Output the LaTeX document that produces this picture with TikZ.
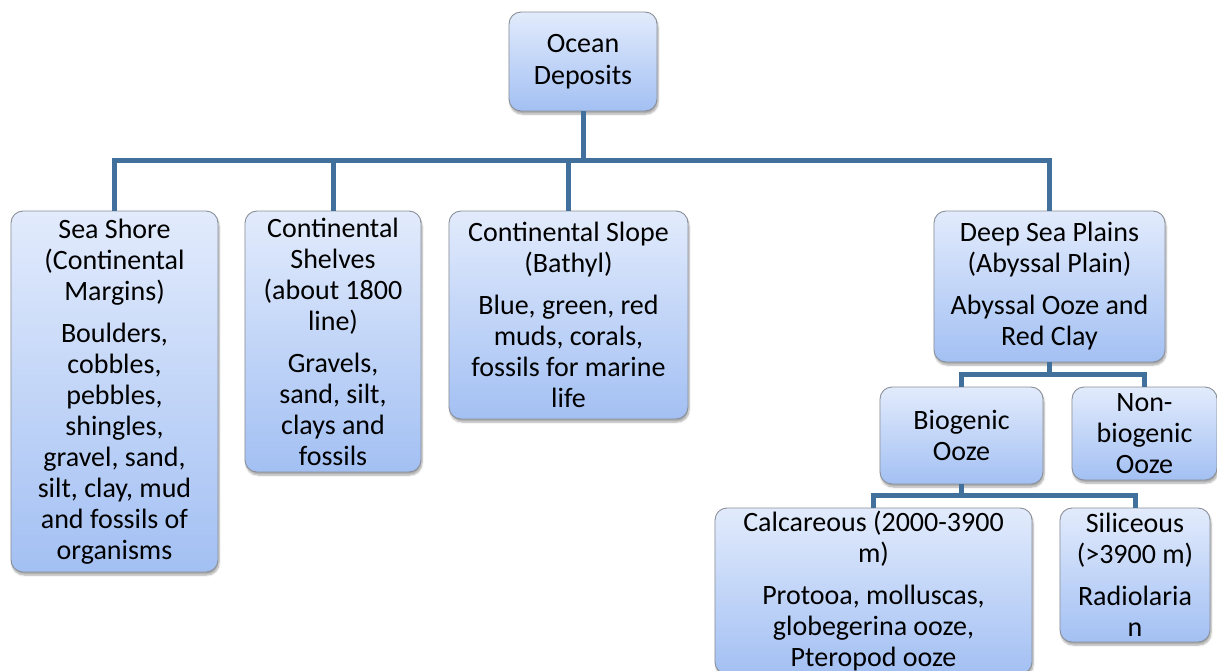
\documentclass[tikz,border=0pt]{standalone}
\usepackage{fontspec}
\setmainfont{Carlito}
\usepackage{xcolor}
\usetikzlibrary{positioning,calc,shadows.blur}
\definecolor{ink}{HTML}{000000}
\definecolor{rim}{HTML}{8A8F98}
\definecolor{boxtop}{HTML}{E2EBFC}
\definecolor{boxbot}{HTML}{A3C0F3}
\definecolor{wire}{HTML}{41709C}
\tikzset{
  deposit/.style={draw=rim,line width=0.9pt,top color=boxtop,bottom color=boxbot,rounded corners=12pt,inner sep=0pt,align=center,text=ink,
    font=\fontsize{28}{31}\selectfont,blur shadow={shadow xshift=1pt,shadow yshift=-3pt,shadow blur steps=6,shadow opacity=35}},
  link/.style={draw=wire,line width=5pt,line join=miter}
}

\begin{document}
\begin{tikzpicture}[x=1pt,y=-1pt]
    \useasboundingbox (0,0) rectangle (1217,670);
    \node[deposit,minimum width=148pt,minimum height=99pt] (ocean) at (583,61.5) {Ocean\\[1pt]Deposits};

    \node[deposit,minimum width=207pt,minimum height=361pt] (shore) at (114.5,391.5) {Sea Shore\\(Continental\\Margins)\\[11pt]Boulders,\\cobbles,\\pebbles,\\shingles,\\gravel, sand,\\silt, clay, mud\\and fossils of\\organisms};
    \node[deposit,minimum width=176pt,minimum height=261pt] (shelves) at (333,341.5) {Continental\\Shelves\\(about 1800\\line)\\[11pt]Gravels,\\sand, silt,\\clays and\\fossils};
    \node[deposit,minimum width=239pt,minimum height=208pt] (slope) at (568.5,315) {Continental Slope\\(Bathyl)\\[11pt]Blue, green, red\\muds, corals,\\fossils for marine\\life};
    \node[deposit,minimum width=231pt,minimum height=151pt] (deep) at (1049.5,286.5) {Deep Sea Plains\\(Abyssal Plain)\\[11pt]Abyssal Ooze and\\Red Clay};

    \node[deposit,minimum width=163pt,minimum height=97pt] (bio) at (961.5,435.5) {Biogenic\\Ooze};
    \node[deposit,minimum width=145pt,minimum height=93pt] (nonbio) at (1144.5,433.5) {Non-\\biogenic\\Ooze};

    \node[deposit,minimum width=317pt,minimum height=166pt] (calc) at (873.5,591) {Calcareous (2000-3900\\m)\\[11pt]Protooa, molluscas,\\globegerina ooze,\\Pteropod ooze};
    \node[deposit,minimum width=150pt,minimum height=134pt] (sil) at (1135,575) {Siliceous\\(\textgreater3900 m)\\[11pt]Radiolaria\\n};

    % connectors
    \coordinate (bus1) at (583,160);
    \coordinate (bus2) at (1049.5,374);
    \coordinate (bus3) at (961.5,495);
    \draw[link] (ocean.south) -- (bus1);
    \draw[link] (shore.north) |- (bus1) -| (deep.north);
    \draw[link] (shelves.north) -- (shelves.north |- bus1);
    \draw[link] (slope.north) -- (slope.north |- bus1);
    \draw[link] (deep.south) -- (bus2);
    \draw[link] (bio.north) |- (bus2) -| (nonbio.north);
    \draw[link] (bio.south) -- (bus3);
    \draw[link] (calc.north) |- (bus3) -| (sil.north);
\end{tikzpicture}
\end{document}
